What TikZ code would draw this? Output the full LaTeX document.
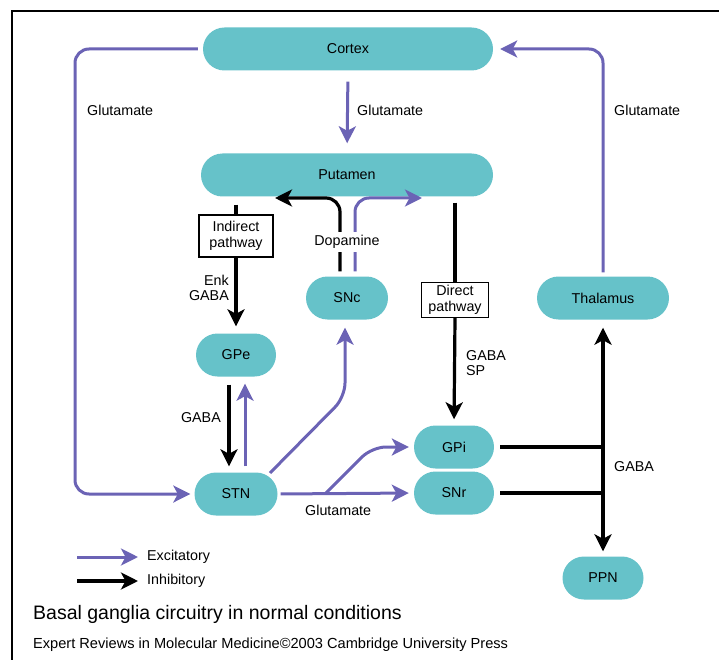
\documentclass[tikz,border=0pt]{standalone}
\usepackage{fontspec}
\setmainfont{Liberation Sans}
\usetikzlibrary{arrows.meta,calc}
\definecolor{teal}{RGB}{102,194,201}
\definecolor{purp}{RGB}{107,99,181}
\tikzset{
  region/.style={fill=teal, draw=none, rounded corners=21.5pt, minimum height=43pt, inner sep=0pt, font=\fontsize{14.3}{16}\selectfont},
  pathbox/.style={draw=black, line width=1.3pt, fill=white, align=center, inner sep=2pt, font=\fontsize{14.3}{15.5}\selectfont},
  lbl/.style={font=\fontsize{14.3}{15.5}\selectfont, inner sep=0pt},
  tip/.tip={Stealth[length=17pt,width=17pt,inset=4.5pt]},
  exc/.style={draw=purp, line width=3pt, -tip},
  inh/.style={draw=black, line width=3.2pt, -tip},
  plainline/.style={draw=black, line width=3.2pt},
}
\begin{document}
\begin{tikzpicture}[x=1pt,y=-1pt]
\useasboundingbox (0,0) rectangle (719,660);
% frame
\draw[line width=1.8pt] (12,660) -- (12,11) -- (719,11);

% nodes
\node[region, minimum width=290pt] (cortex) at (348,49) {Cortex};
\node[region, minimum width=292pt] (putamen) at (347,175) {Putamen};
\node[region, minimum width=82pt] (snc) at (347,298) {SNc};
\node[region, minimum width=132pt] (thal) at (603,298) {Thalamus};
\node[region, minimum width=80pt] (gpe) at (236,355) {GPe};
\node[region, minimum width=80pt] (gpi) at (454,447) {GPi};
\node[region, minimum width=80pt] (snr) at (454,493) {SNr};
\node[region, minimum width=83pt] (stn) at (236,494) {STN};
\node[region, minimum width=81pt] (ppn) at (603,578) {PPN};

\node[pathbox, minimum width=74pt, minimum height=42pt] (indirect) at (236,236) {Indirect\\pathway};
\node[pathbox, minimum width=67pt, minimum height=35pt] (direct) at (455,300) {Direct\\pathway};

% coordinates
\coordinate (lc) at (75,494);
\coordinate (dl) at (275,198);
\coordinate (dr) at (422,198);
\coordinate (dlb) at (340,198);
\coordinate (drb) at (355,198);
\coordinate (sncbend) at (345,397);
\coordinate (stnne) at (270,473);
\coordinate (br) at (325,494);
\coordinate (brk) at (372,447);

% cortex loops
\draw[exc, rounded corners=14pt, shorten <=5pt, shorten >=4pt] (cortex.west) -| (lc) -- (stn.west);
\draw[exc, rounded corners=14pt, shorten <=4pt, shorten >=7pt] (thal.north) |- (cortex.east);
\draw[exc, shorten <=11pt, shorten >=10pt] (cortex.south) -- (putamen.north);

% indirect / direct
\draw[plainline, shorten <=8pt] (putamen.south -| indirect.north) -- (indirect.north);
\draw[inh, shorten >=7pt] (indirect.south) -- (gpe.north);
\draw[plainline, shorten <=6pt] (putamen.south -| direct.north) -- (direct.north);
\draw[inh, shorten >=6pt] (direct.south) -- (gpi.north);

% dopamine
\draw[inh, rounded corners=14pt, shorten <=5pt] (snc.north -| dlb) -- (dlb) -- (dl);
\draw[exc, rounded corners=14pt, shorten <=5pt] (snc.north -| drb) -- (drb) -- (dr);
\node[lbl, fill=white, inner ysep=3pt, inner xsep=1pt] (dopa) at (347,242) {Dopamine};

% GPe-STN
\draw[inh, shorten <=8pt, shorten >=6pt] ([xshift=-7pt]gpe.south) -- ([xshift=-7pt]stn.north);
\draw[exc, shorten <=6pt, shorten >=7pt] ([xshift=9pt]stn.north) -- ([xshift=9pt]gpe.south);

% STN to SNc
\draw[exc, rounded corners=14pt, shorten >=8pt] (stnne) -- (sncbend) -- (sncbend |- snc.south);

% STN to SNr / GPi
\draw[exc, shorten <=3pt, shorten >=5pt] (stn.east) -- (snr.west);
\draw[exc, rounded corners=14pt, shorten >=5pt] (br) -- (brk) -- (gpi.west);

% output
\draw[plainline, shorten <=6pt] (gpi.east) -- (gpi.east -| thal.south);
\draw[plainline, shorten <=6pt] (snr.east) -- (snr.east -| thal.south);
\draw[draw=black, line width=3.2pt, tip-tip, shorten <=8pt, shorten >=5pt] (thal.south) -- (ppn.north);

% labels
\node[lbl, anchor=west] at (87,110) {Glutamate};
\node[lbl, anchor=west] at (357,110) {Glutamate};
\node[lbl, anchor=west] at (614,110) {Glutamate};
\node[lbl, anchor=east, align=right] at (229,288) {Enk\\GABA};
\node[lbl, anchor=west, align=left] at (466,363) {GABA\\SP};
\node[lbl, anchor=east] at (221,418) {GABA};
\node[lbl, anchor=west] at (305,510) {Glutamate};
\node[lbl, anchor=west] at (614,467) {GABA};

% legend
\coordinate (le1) at (77,557);
\coordinate (le2) at (138,557);
\coordinate (li1) at (77,581);
\coordinate (li2) at (138,581);
\draw[exc] (le1) -- (le2);
\draw[inh] (li1) -- (li2);
\node[lbl, anchor=west] at (147,557) {Excitatory};
\node[lbl, anchor=west] at (147,581) {Inhibitory};

\node[anchor=west, inner sep=0pt, font=\fontsize{19.5}{21}\selectfont] at (33,614) {Basal ganglia circuitry in normal conditions};
\node[anchor=west, inner sep=0pt, font=\fontsize{14.6}{16}\selectfont] at (33,645) {Expert Reviews in Molecular Medicine©2003 Cambridge University Press};
\end{tikzpicture}
\end{document}
